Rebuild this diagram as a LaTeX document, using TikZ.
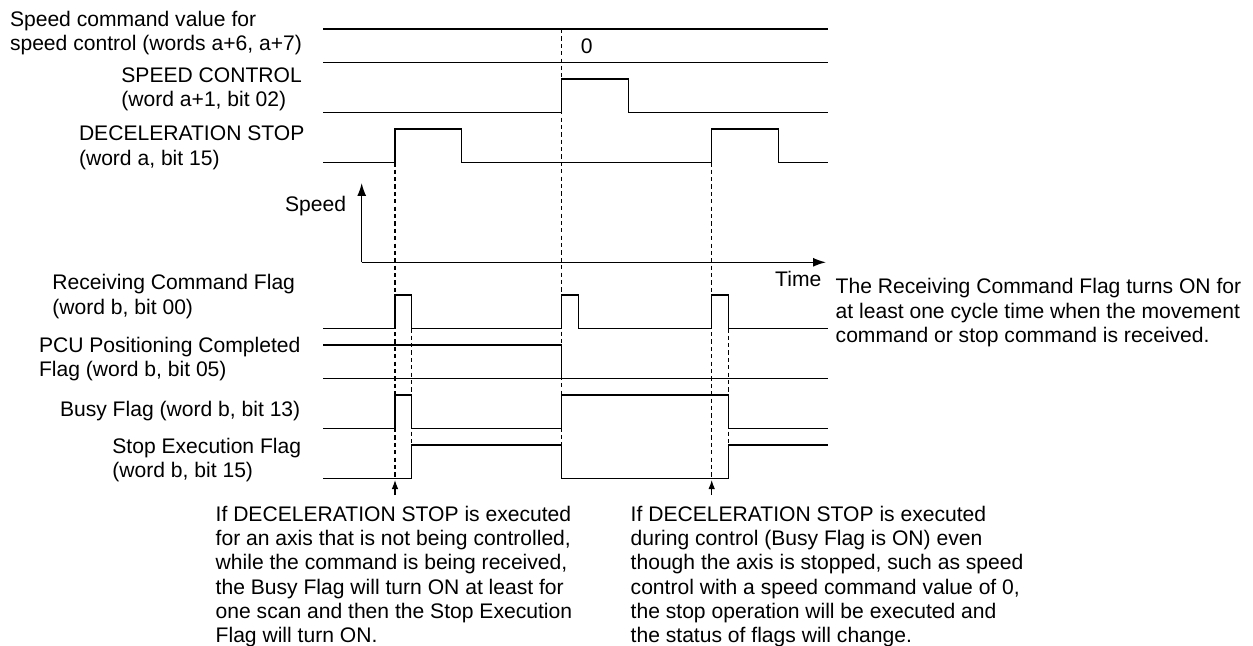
\documentclass[tikz,border=0pt]{standalone}
\usepackage{fontspec}
\setmainfont{Liberation Sans}
\usetikzlibrary{arrows.meta}

\begin{document}
\begin{tikzpicture}[line width=0.8pt,
    every node/.style={font=\fontsize{12}{13.8}\selectfont, inner sep=0pt},
    guide/.style={line width=0.6pt, dash pattern=on 2.4pt off 1.8pt},
    note/.style={align=left, anchor=base west}]
  \useasboundingbox (0,0) rectangle (25.06,12.9);
  % signal labels (base = last line)
  \node[note] (cmd-label) at (0.186,11.89) {Speed command value for\\speed control (words a+6, a+7)};
  \node[note] (ctrl-label) at (2.414,10.762) {SPEED CONTROL\\(word a+1, bit 02)};
  \node[note] (decel-label) at (1.566,9.596) {DECELERATION STOP\\(word a, bit 15)};
  \node[anchor=base east] (speed-label) at (6.934,8.666) {Speed};
  \node[anchor=base east] (time-label) at (16.44,7.166) {Time};
  \node[note] (recv-label) at (1.034,6.616) {Receiving Command Flag\\(word b, bit 00)};
  \node[note] (pcu-label) at (0.766,5.362) {PCU Positioning Completed\\Flag (word b, bit 05)};
  \node[note] (busy-label) at (1.186,4.58) {Busy Flag (word b, bit 13)};
  \node[note] (stop-label) at (2.234,3.35) {Stop Execution Flag\\(word b, bit 15)};
  % command value bus
  \draw (6.46,12.32) -- (16.56,12.32);
  \draw (6.46,11.654) -- (16.56,11.654);
  \node (cmd-zero) at (11.734,11.966) {0};
  % waveforms
  \draw (6.46,10.653) -- (11.234,10.653) |- (12.567,11.32) -- (12.567,10.653) -- (16.56,10.653);
  \draw (6.46,9.653) -- (7.9,9.653) |- (9.233,10.32) -- (9.233,9.653) -- (14.234,9.653)
        |- (15.567,10.32) -- (15.567,9.653) -- (16.56,9.653);
  \draw (6.46,6.333) -- (7.9,6.333) |- (8.234,7) -- (8.234,6.333) -- (11.234,6.333) |- (11.567,7)
        -- (11.567,6.333) -- (14.234,6.333) |- (14.566,7) -- (14.566,6.333) -- (16.56,6.333);
  \draw (6.46,6) -- (11.234,6) -- (11.234,5.333);
  \draw (6.46,5.333) -- (16.56,5.333);
  \draw (6.46,4.333) -- (7.9,4.333) |- (8.234,5) -- (8.234,4.333) -- (11.234,4.333) |- (14.566,5)
        -- (14.566,4.333) -- (16.56,4.333);
  \draw (6.46,3.333) -- (8.234,3.333) |- (11.234,4) -- (11.234,3.333) -- (14.566,3.333) |- (16.56,4);
  % speed axes
  \coordinate (origin) at (7.234,7.654);
  \draw[-{Latex[length=0.26cm,width=0.18cm]}] (origin) -- (7.234,9.24);
  \draw[-{Latex[length=0.26cm,width=0.18cm]}] (origin) -- (16.52,7.654);
  % timing guides
  \draw[guide] (7.9,9.653) -- (7.9,3.333);
  \draw[guide] (11.234,12.32) -- (11.234,3.333);
  \draw[guide] (14.234,9.653) -- (14.234,3.333);
  \foreach \x in {8.234,14.566}
    \draw[guide] (\x,6.333) -- (\x,3.333);
  \foreach \x/\name in {7.9/left,14.234/right} {
    \coordinate (\name-mark) at (\x,3.3);
    \draw[line width=0.6pt, -{Latex[length=0.18cm,width=0.13cm]}] (\x,3.0) -- (\name-mark);
  }
  % notes
  \node[note] (recv-note) at (16.7,6.052) {The Receiving Command Flag turns ON for\\at least one cycle time when the movement\\command or stop command is received.};
  \node[note] (left-note) at (4.3,0.046) {If DECELERATION STOP is executed\\for an axis that is not being controlled,\\while the command is being received,\\the Busy Flag will turn ON at least for\\one scan and then the Stop Execution\\Flag will turn ON.};
  \node[note] (right-note) at (12.6,0.046) {If DECELERATION STOP is executed\\during control (Busy Flag is ON) even\\though the axis is stopped, such as speed\\control with a speed command value of 0,\\the stop operation will be executed and\\the status of flags will change.};
\end{tikzpicture}
\end{document}
